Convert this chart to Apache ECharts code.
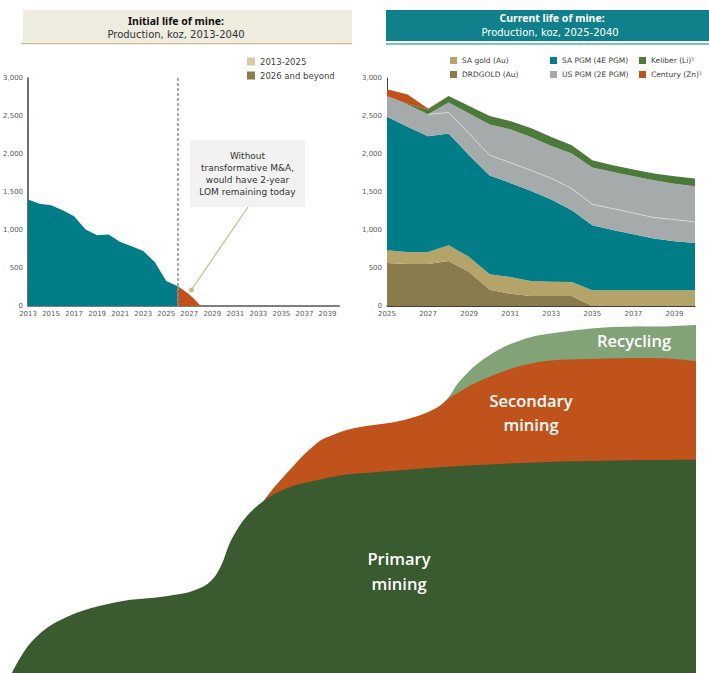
<!DOCTYPE html>
<html><head><meta charset="utf-8">
<script src="https://cdn.jsdelivr.net/npm/echarts@6/dist/echarts.min.js"></script>
<style>html,body{margin:0;padding:0;background:#fff}#c{width:709px;height:673px}</style>
</head><body><div id="c"></div><script>
// ---------- Initial life of mine (koz) ----------
const initialYears = ['2013','2014','2015','2016','2017','2018','2019','2020','2021','2022','2023','2024','2025','2026','2027','2028','2029','2030','2031','2032','2033','2034','2035','2036','2037','2038','2039','2040'];
const initialLife = [1400,1347,1325,1259,1180,1005,930,940,843,786,724,579,329,259];
const beyondYears = ['2026','2027','2028'];
const beyondLife = [259,150,0];

// ---------- Current life of mine (koz), 2025-2040 ----------
const currentYears = ['2025','2026','2027','2028','2029','2030','2031','2032','2033','2034','2035','2036','2037','2038','2039','2040'];
const drdgold = [567,553,553,593,448,215,162,132,132,132,0,0,0,0,0,0];
const saGold  = [166,158,158,206,198,202,220,197,188,184,207,207,207,207,207,207];
const saPgm   = [1757,1649,1522,1470,1337,1301,1238,1186,1080,943,855,793,736,680,644,622];
const usPgmA  = [274,292,290,276,286,265,267,271,280,286,276,281,281,276,286,277];
const usPgmB  = [0,0,0,132,263,404,438,438,426,460,483,483,483,491,473,469];
const keliber = [0,10,61,87,100,113,110,119,118,110,96,87,88,88,97,101];
const century = [88,120,14,0,0,0,0,0,0,0,0,0,0,0,0,0];

// ---------- Illustrative supply curve ----------
const primaryMining = [[0,0],[3.1,9.4],[8,16],[15.4,20.3],[22.7,22],[27.5,24.3],[30,28.6],[32.3,38.9],[35.2,46.6],[39.6,52.3],[44.6,55.1],[50.1,56.9],[74.4,60],[100,60.9]];
const secondaryMining = [[34,40],[36.7,48.9],[40.6,58],[44.6,65.7],[46.9,68],[50.1,70],[57.3,72.3],[62.1,75.7],[64.2,78.9],[69.4,84.3],[76.3,88.6],[84.1,89.7],[93.9,90],[100,89.1]];
const recycling = [[60,73.5],[63.2,77.4],[65.6,83.7],[69.4,90.3],[74.4,95.1],[80.3,97.4],[89,98.9],[96.3,99.1],[100,99.4]];

const FONT = "'DejaVu Sans', sans-serif";
const HFONT = "'Noto Sans', sans-serif";
const tickLabel = {fontSize: 7, lineHeight: 8, color: '#595959', fontFamily: FONT};
const fmt = v => v.toLocaleString('en-US');

// helpers for the left chart
const teal = initialYears.map((y, i) => i < initialLife.length ? initialLife[i] : null);
const orange = initialYears.map(y => { const k = beyondYears.indexOf(y); return k >= 0 ? beyondLife[k] : null; });

// divider line inside US PGM (top of first US PGM layer), shown from 2027
const divider = currentYears.map((y, i) => i >= 2 ? drdgold[i] + saGold[i] + saPgm[i] + usPgmA[i] : null);

const stackArea = (name, data, color) => ({
  name, type: 'line', xAxisIndex: 1, yAxisIndex: 1, stack: 'cur', data,
  symbol: 'none', lineStyle: {width: 0}, areaStyle: {color, opacity: 1}, itemStyle: {color},
  emphasis: {disabled: true}, z: 2
});

const legendBase = {orient: 'vertical', icon: 'rect', selectedMode: false};

const chart = echarts.init(document.getElementById('c'), null, {renderer: 'svg'});
chart.setOption({
  animation: false,
  backgroundColor: '#fff',
  grid: [
    {left: 28, right: 370, top: 78, bottom: 367},
    {left: 387, right: 14, top: 78, bottom: 367},
    {left: 12, right: 13, top: 323, bottom: 0}
  ],
  xAxis: [
    {type: 'category', gridIndex: 0, data: initialYears, boundaryGap: false,
     axisLine: {lineStyle: {color: '#7f7f7f', width: 2}}, axisTick: {show: false},
     axisLabel: Object.assign({interval: 1, margin: 4}, tickLabel), splitLine: {show: false}},
    {type: 'category', gridIndex: 1, data: currentYears, boundaryGap: false,
     axisLine: {lineStyle: {color: '#404040', width: 1}}, axisTick: {show: false},
     axisLabel: Object.assign({interval: 1, margin: 4}, tickLabel), splitLine: {show: false}},
    {type: 'value', gridIndex: 2, min: 0, max: 100, show: false}
  ],
  yAxis: [
    {type: 'value', gridIndex: 0, min: 0, max: 3000, interval: 500,
     axisLine: {show: true, lineStyle: {color: '#404040', width: 1.5}}, axisTick: {show: false},
     axisLabel: Object.assign({formatter: fmt, margin: 5}, tickLabel), splitLine: {show: false}},
    {type: 'value', gridIndex: 1, min: 0, max: 3000, interval: 500,
     axisLine: {show: true, lineStyle: {color: '#404040', width: 1}}, axisTick: {show: false},
     axisLabel: Object.assign({formatter: fmt, margin: 5}, tickLabel), splitLine: {show: false}},
    {type: 'value', gridIndex: 2, min: 0, max: 100, show: false}
  ],
  legend: [
    Object.assign({left: 242, top: 52, itemWidth: 8, itemHeight: 8, itemGap: 5,
     textStyle: {fontSize: 8.5, color: '#404040', fontFamily: FONT},
     data: [{name: '2013-2025', itemStyle: {color: '#d5caa1'}}, {name: '2026 and beyond', itemStyle: {color: '#8b7b45'}}]}, legendBase),
    Object.assign({left: 445, top: 51.5, itemWidth: 7, itemHeight: 7, itemGap: 6,
     textStyle: {fontSize: 7.5, color: '#404040', fontFamily: FONT},
     data: ['SA gold (Au)', 'DRDGOLD (Au)']}, legendBase),
    Object.assign({left: 545, top: 51.5, itemWidth: 7, itemHeight: 7, itemGap: 6,
     textStyle: {fontSize: 7.5, color: '#404040', fontFamily: FONT},
     data: ['SA PGM (4E PGM)', 'US PGM (2E PGM)']}, legendBase),
    Object.assign({left: 634, top: 51.5, itemWidth: 7, itemHeight: 7, itemGap: 6,
     textStyle: {fontSize: 7.5, color: '#404040', fontFamily: FONT},
     data: ['Keliber (Li)¹', 'Century (Zn)¹']}, legendBase)
  ],
  series: [
    {name: '2013-2025', type: 'line', xAxisIndex: 0, yAxisIndex: 0, data: teal, symbol: 'none',
     lineStyle: {width: 0}, areaStyle: {color: '#007d87', opacity: 1}, itemStyle: {color: '#007d87'},
     markLine: {symbol: 'none', silent: true, label: {show: false},
       lineStyle: {color: '#8c8c8c', type: [3, 2], width: 1.5},
       data: [[{xAxis: '2026', yAxis: 0}, {xAxis: '2026', yAxis: 3000}]]}},
    {name: '2026 and beyond', type: 'line', xAxisIndex: 0, yAxisIndex: 0, data: orange, symbol: 'none', smooth: 0.4,
     lineStyle: {width: 0}, areaStyle: {color: '#c1501a', opacity: 1}, itemStyle: {color: '#c1501a'}},

    stackArea('DRDGOLD (Au)', drdgold, '#8a7b4d'),
    stackArea('SA gold (Au)', saGold, '#b5a469'),
    stackArea('SA PGM (4E PGM)', saPgm, '#007d87'),
    stackArea('US PGM (2E PGM)', usPgmA, '#a5abab'),
    stackArea('US PGM (2E PGM) upper', usPgmB, '#a5abab'),
    stackArea('Keliber (Li)¹', keliber, '#4b7a3a'),
    stackArea('Century (Zn)¹', century, '#c1501a'),
    {name: 'divider', type: 'line', xAxisIndex: 1, yAxisIndex: 1, data: divider, symbol: 'none',
     lineStyle: {color: '#d3d7d7', width: 1}, z: 3, emphasis: {disabled: true}},

    {name: 'Recycling', type: 'line', xAxisIndex: 2, yAxisIndex: 2, data: recycling, smooth: 0.4, symbol: 'none',
     lineStyle: {width: 0}, areaStyle: {color: '#82a377', opacity: 1}, z: 1},
    {name: 'Secondary mining', type: 'line', xAxisIndex: 2, yAxisIndex: 2, data: secondaryMining, smooth: 0.4, symbol: 'none',
     lineStyle: {width: 0}, areaStyle: {color: '#bf531b', opacity: 1}, z: 2},
    {name: 'Primary mining', type: 'line', xAxisIndex: 2, yAxisIndex: 2, data: primaryMining, smooth: 0.4, symbol: 'none',
     lineStyle: {width: 0}, areaStyle: {color: '#3a5a2f', opacity: 1}, z: 3}
  ],
  graphic: [
    // left header
    {type: 'rect', shape: {x: 23, y: 10, width: 329, height: 32}, style: {fill: '#eeebdf'}},
    {type: 'line', shape: {x1: 21, y1: 43.5, x2: 352, y2: 43.5}, style: {stroke: '#c9bb8e', lineWidth: 1.5}},
    {type: 'text', x: 176, y: 21, style: {text: 'Initial life of mine:', fontSize: 10.5, fontWeight: 'bold', fill: '#111', fontFamily: HFONT, align: 'center', verticalAlign: 'middle'}},
    {type: 'text', x: 176, y: 34, style: {text: 'Production, koz, 2013-2040', fontSize: 10, fill: '#333', fontFamily: FONT, align: 'center', verticalAlign: 'middle'}},
    // right header
    {type: 'rect', shape: {x: 386, y: 10, width: 323, height: 31}, style: {fill: '#10818a'}},
    {type: 'line', shape: {x1: 386, y1: 44, x2: 709, y2: 44}, style: {stroke: '#7fc0c5', lineWidth: 2}},
    {type: 'text', x: 552, y: 18, style: {text: 'Current life of mine:', fontSize: 10.5, fontWeight: 'bold', fill: '#fff', fontFamily: HFONT, align: 'center', verticalAlign: 'middle'}},
    {type: 'text', x: 550, y: 32, style: {text: 'Production, koz, 2025-2040', fontSize: 10, fill: '#fff', fontFamily: FONT, align: 'center', verticalAlign: 'middle'}},
    // annotation
    {type: 'rect', shape: {x: 190, y: 140, width: 115, height: 67}, style: {fill: '#f2f2f2'}},
    {type: 'text', x: 247.5, y: 174, style: {text: 'Without\ntransformative M&A,\nwould have 2-year\nLOM remaining today', fontSize: 9, lineHeight: 12, fill: '#333', fontFamily: FONT, align: 'center', verticalAlign: 'middle'}},
    {type: 'line', shape: {x1: 192, y1: 289, x2: 248, y2: 207}, style: {stroke: '#c8b88a', lineWidth: 1.2}},
    {type: 'circle', shape: {cx: 191.5, cy: 290, r: 2.5}, style: {fill: '#c8b88a'}},
    // bottom chart labels
    {type: 'text', x: 634, y: 340, z: 10, style: {text: 'Recycling', fontSize: 16.5, fontWeight: 600, fill: '#fff', fontFamily: "'Open Sans', sans-serif", align: 'center', verticalAlign: 'middle'}},
    {type: 'text', x: 531, y: 412, z: 10, style: {text: 'Secondary\nmining', fontSize: 16.5, lineHeight: 24, fontWeight: 600, fill: '#fff', fontFamily: "'Open Sans', sans-serif", align: 'center', verticalAlign: 'middle'}},
    {type: 'text', x: 399, y: 571, z: 10, style: {text: 'Primary\nmining', fontSize: 16.5, lineHeight: 25, fontWeight: 600, fill: '#fff', fontFamily: "'Open Sans', sans-serif", align: 'center', verticalAlign: 'middle'}}
  ]
});
</script></body></html>
